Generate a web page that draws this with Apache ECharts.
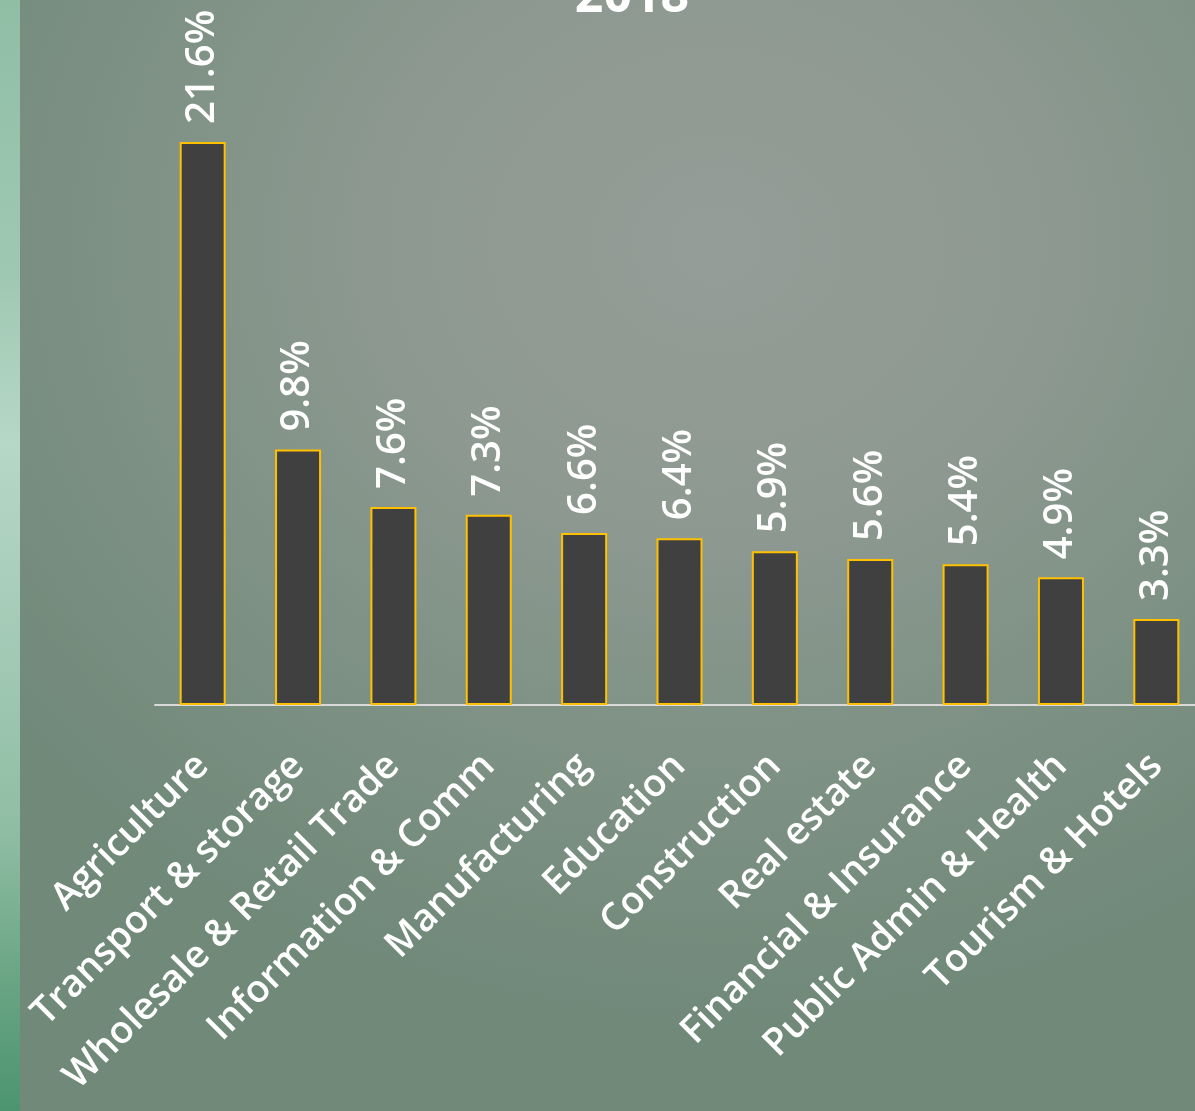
<!DOCTYPE html>
<html>
<head>
<meta charset="utf-8">
<script src="https://cdn.jsdelivr.net/npm/echarts@6/dist/echarts.min.js"></script>
<style>
  html, body { margin: 0; padding: 0; }
  #wrap { position: relative; width: 1195px; height: 1111px; overflow: hidden;
    background: radial-gradient(ellipse 75% 70% at 60% 22%, #949d97 0%, #8e9992 35%, #7f9285 65%, #708979 100%); }
  #chart { position: absolute; left: 0; top: 0; width: 1215px; height: 1111px; }
  #strip { position: absolute; left: 0; top: 0; width: 20px; height: 1111px; z-index: 10;
    background: linear-gradient(to bottom, #8fbea5 0%, #9fc8b2 25%, #b6d8c6 40%, #a6ccb8 55%, #8fbda3 75%, #6aa584 88%, #4c9470 100%); }
</style>
</head>
<body>
<div id="wrap">
  <div id="chart"></div>
  <div id="strip"></div>
</div>
<script>
const titleText = '2018';
const categories = [
  'Agriculture', 'Transport & storage', 'Wholesale & Retail Trade', 'Information & Comm',
  'Manufacturing', 'Education', 'Construction', 'Real estate',
  'Financial & Insurance', 'Public Admin & Health', 'Tourism & Hotels'
];
const values = [21.6, 9.8, 7.6, 7.3, 6.6, 6.4, 5.9, 5.6, 5.4, 4.9, 3.3];

const chart = echarts.init(document.getElementById('chart'), null, { renderer: 'canvas' });
chart.setOption({
  backgroundColor: 'transparent',
  animation: false,
  title: {
    text: titleText,
    left: 627,
    top: -32,
    textAlign: 'center',
    textStyle: { color: '#ffffff', fontFamily: 'Open Sans', fontWeight: 'bold', fontSize: 50 }
  },
  grid: { left: 155, width: 1049, top: 53.3, height: 651.7, containLabel: false },
  xAxis: {
    type: 'category',
    data: categories,
    axisLine: { show: true, lineStyle: { color: '#d9d9d9', width: 2 } },
    axisTick: { show: false },
    axisLabel: {
      interval: 0,
      rotate: 45,
      margin: 55,
      align: 'right',
      verticalAlign: 'middle',
      color: '#ffffff',
      fontFamily: 'Open Sans',
      fontWeight: 600,
      fontSize: 38
    }
  },
  yAxis: {
    type: 'value', min: 0, max: 25, show: false,
    splitLine: { show: false }
  },
  series: [{
    type: 'bar',
    data: values,
    barWidth: 46,
    itemStyle: { color: '#404040', borderColor: '#FFC000', borderWidth: 2 },
    label: {
      show: true,
      position: 'top',
      distance: 18,
      rotate: 90,
      align: 'left',
      verticalAlign: 'middle',
      formatter: p => p.value.toFixed(1) + '%',
      color: '#ffffff',
      fontFamily: 'Open Sans',
      fontWeight: 600,
      fontSize: 40
    }
  }]
});
</script>
</body>
</html>
